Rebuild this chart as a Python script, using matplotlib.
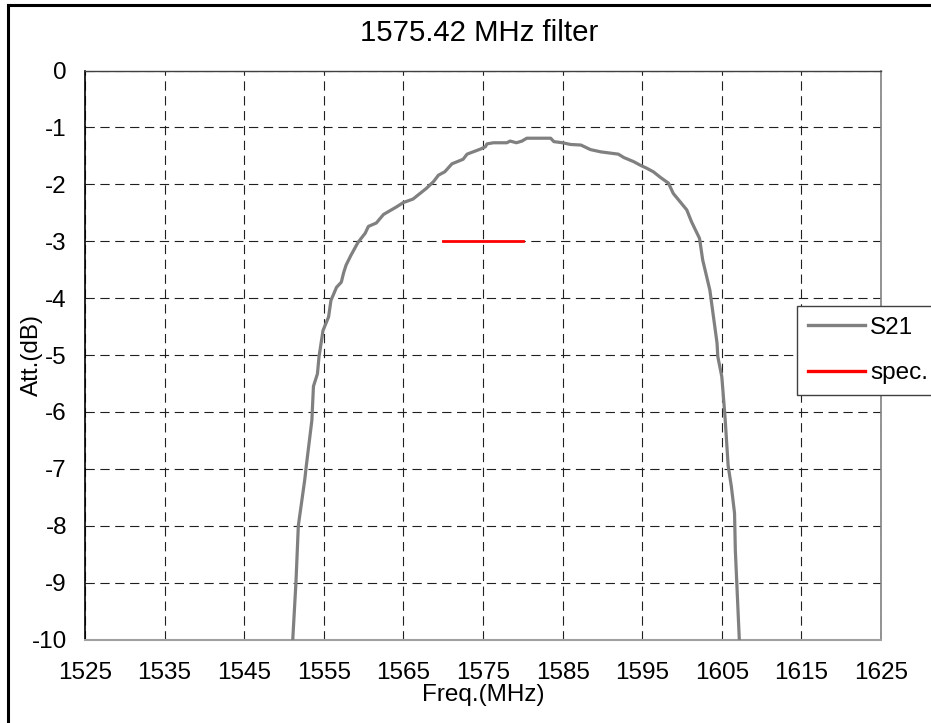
import matplotlib
matplotlib.use("Agg")
import matplotlib.pyplot as plt
from matplotlib.lines import Line2D

plt.rcParams["font.family"] = ["Liberation Sans", "DejaVu Sans"]
plt.rcParams["lines.scale_dashes"] = False
plt.rcParams["axes.unicode_minus"] = False

# S21 trace
freq = [1551.1, 1551.5, 1551.8, 1552.2, 1552.6, 1552.8, 1553.5, 1553.7, 1554.2, 1554.4,
        1554.9, 1555.6, 1555.9, 1556.6, 1557.2, 1557.5, 1557.8, 1558.4, 1559.3, 1560.2,
        1560.6, 1561.6, 1562.5, 1564.1, 1565.0, 1566.2, 1567.9, 1568.8, 1569.4, 1570.2,
        1571.1, 1572.5, 1573.0, 1574.7, 1575.3, 1575.5, 1576.3, 1578.0, 1578.4, 1579.2,
        1579.9, 1580.5, 1583.5, 1583.9, 1585.0, 1586.0, 1587.3, 1588.5, 1589.8, 1592.0,
        1592.7, 1593.9, 1594.7, 1595.6, 1596.4, 1597.3, 1598.3, 1598.9, 1600.6, 1601.2,
        1602.2, 1602.6, 1603.5, 1604.4, 1604.5, 1605.0, 1605.4, 1605.8, 1606.2, 1606.6,
        1606.7, 1607.2]
s21 = [-10.0, -9.0, -8.0, -7.6, -7.2, -6.95, -6.15, -5.55, -5.33, -5.03,
       -4.57, -4.33, -4.04, -3.81, -3.72, -3.55, -3.42, -3.25, -3.02, -2.86,
       -2.74, -2.68, -2.53, -2.40, -2.32, -2.26, -2.07, -1.95, -1.84, -1.78,
       -1.64, -1.56, -1.47, -1.38, -1.34, -1.29, -1.27, -1.27, -1.24, -1.27,
       -1.24, -1.19, -1.19, -1.25, -1.27, -1.30, -1.31, -1.39, -1.43, -1.47,
       -1.53, -1.60, -1.66, -1.72, -1.78, -1.88, -1.98, -2.16, -2.45, -2.66,
       -2.95, -3.33, -3.86, -4.79, -5.03, -5.38, -6.08, -6.95, -7.31, -7.78,
       -8.43, -10.0]

# spec line
spec_freq = [1570, 1580]
spec_att = [-3, -3]

x_ticks = [1525, 1535, 1545, 1555, 1565, 1575, 1585, 1595, 1605, 1615, 1625]
y_ticks = [0, -1, -2, -3, -4, -5, -6, -7, -8, -9, -10]

W, H = 931, 723
fs = 17.5
fig = plt.figure(figsize=(W / 100, H / 100), dpi=100)
ax = fig.add_axes([85 / W, 1 - 639.5 / H, (881 - 85) / W, 569 / H])

ax.plot(freq, s21, color="#808080", lw=2.3, label="S21", zorder=3)
ax.plot(spec_freq, spec_att, color="#ff0000", lw=2.0, label="spec.", zorder=3)

ax.set_xlim(1525, 1625)
ax.set_ylim(-10, 0)
ax.set_xticks(x_ticks)
ax.set_yticks(y_ticks)
ax.tick_params(length=0, labelsize=fs)
ax.tick_params(axis="x", pad=16.5)
ax.tick_params(axis="y", pad=13)
ax.grid(True, color="#202020", lw=0.8, linestyle=(0, (6.7, 4)))

ax.spines["left"].set_color("#000000")
ax.spines["left"].set_linewidth(1.2)
ax.spines["top"].set_color("#404040")
ax.spines["top"].set_linewidth(1.0)
ax.spines["right"].set_color("#808080")
ax.spines["right"].set_linewidth(1.2)
ax.spines["bottom"].set_color("#a0a0a0")
ax.spines["bottom"].set_linewidth(1.5)

ax.set_xlabel("Freq.(MHz)", fontsize=fs)
ax.set_ylabel("Att.(dB)", fontsize=fs)
ax.xaxis.set_label_coords(0.5, -45 / 569)
ax.yaxis.set_label_coords(-(85 - 43) / 796, 0.5)

fig.text(479 / W, 1 - 40.6 / H, "1575.42 MHz filter", fontsize=21.2,
         ha="center", va="baseline")

leg = ax.legend(loc="upper left", bbox_to_anchor=(797 / W, 1 - 306 / H),
                bbox_transform=fig.transFigure, borderaxespad=0, fontsize=fs,
                frameon=True, fancybox=False, framealpha=1, edgecolor="#404040",
                handlelength=2.35, handletextpad=0.2, labelspacing=0.95,
                borderpad=0.45)
leg.get_frame().set_linewidth(1.0)
for line in leg.get_lines():
    line.set_linewidth(2.4)

# outer chart border (left and top visible)
fig.add_artist(Line2D([7.5 / W, 7.5 / W], [0, 1 - 5 / H], color="black", lw=2.2,
                      transform=fig.transFigure))
fig.add_artist(Line2D([7.5 / W, 930 / W], [1 - 5 / H, 1 - 5 / H], color="black", lw=2.2,
                      transform=fig.transFigure))

fig.savefig("out.png", dpi=100)
